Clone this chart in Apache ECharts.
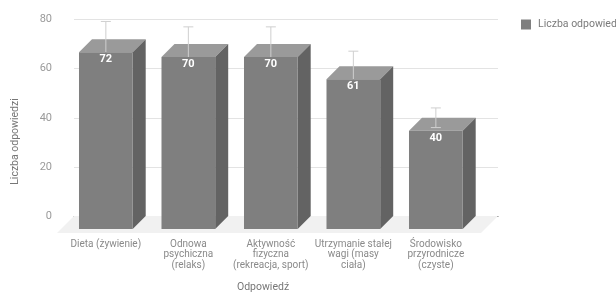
<!DOCTYPE html>
<html>
<head>
<meta charset="utf-8">
<script src="https://cdn.jsdelivr.net/npm/echarts@6/dist/echarts.min.js"></script>
<style>
html,body{margin:0;padding:0;background:#fff;}
#chart{width:616px;height:292px;}
</style>
</head>
<body>
<div id="chart"></div>
<script>
const categories = ['Dieta (żywienie)', 'Odnowa psychiczna (relaks)', 'Aktywność fizyczna (rekreacja, sport)', 'Utrzymanie stałej wagi (masy ciała)', 'Środowisko przyrodnicze (czyste)'];
const tickLabels = ['Dieta (żywienie)', 'Odnowa\npsychiczna\n(relaks)', 'Aktywność\nfizyczna\n(rekreacja, sport)', 'Utrzymanie stałej\nwagi (masy\nciała)', 'Środowisko\nprzyrodnicze\n(czyste)'];
const values = [72, 70, 70, 61, 40];
const errors = [7.2, 7, 7, 6.1, 4];
const seriesName = 'Liczba odpowiedzi';
const xTitle = 'Odpowiedź';
const yTitle = 'Liczba odpowiedzi';

const DEPTH = 13;
const FLOOR = 17;
const FONT = 'Roboto, "Noto Sans", sans-serif';

const chart = echarts.init(document.getElementById('chart'), null, {renderer: 'canvas'});

function renderBar(params, api) {
  const i = api.value(0), v = api.value(1), e = api.value(2);
  const base = api.coord([i, 0]);
  const top = api.coord([i, v]);
  const band = api.size([1, 0])[0];
  const hw = band * 0.651 / 2;
  const x0 = top[0] - hw, x1 = top[0] + hw;
  const yt = top[1], yb = base[1];
  const d = DEPTH;
  const eHi = api.coord([i, v + e])[1] - d;
  const eLo = api.coord([i, v - e])[1] - d;
  const cx = top[0];
  const cap = 5;
  return {
    type: 'group',
    children: [
      {type: 'polygon', shape: {points: [[x0, yt], [x1, yt], [x1 + d, yt - d], [x0 + d, yt - d]]}, style: {fill: '#9a9a9a'}},
      {type: 'polygon', shape: {points: [[x1, yt], [x1 + d, yt - d], [x1 + d, yb - d], [x1, yb]]}, style: {fill: '#636363'}},
      {type: 'line', shape: {x1: cx, y1: eHi, x2: cx, y2: eLo}, style: {stroke: '#cfcfcf', lineWidth: 1}},
      {type: 'line', shape: {x1: cx - cap, y1: eHi, x2: cx + cap, y2: eHi}, style: {stroke: '#cfcfcf', lineWidth: 1}},
      {type: 'line', shape: {x1: cx - cap, y1: eLo, x2: cx + cap, y2: eLo}, style: {stroke: '#cfcfcf', lineWidth: 1}},
      {type: 'rect', shape: {x: x0, y: yt, width: x1 - x0, height: yb - yt}, style: {fill: '#7f7f7f'}},
      {type: 'text', style: {text: String(v), x: cx, y: yt + 7, fill: '#ffffff', font: 'bold 11px ' + FONT, align: 'center', verticalAlign: 'middle', textAlign: 'center', textVerticalAlign: 'middle'}}
    ]
  };
}

function renderFloor(params, api) {
  const cs = params.coordSys;
  const yb = cs.y + cs.height;
  const xl = cs.x, xr = cs.x + cs.width;
  return {
    type: 'polygon',
    shape: {points: [[xl, yb], [xr, yb], [xr - FLOOR, yb + FLOOR], [xl - FLOOR, yb + FLOOR]]},
    style: {fill: '#f1f1f1'}
  };
}

const option = {
  animation: false,
  backgroundColor: '#ffffff',
  textStyle: {fontFamily: FONT},
  grid: [
    {left: 74, top: 19.5, width: 424, height: 196.5},
    {left: 64.6, top: 32.5, width: 412.5, height: 196.5}
  ],
  xAxis: [
    {type: 'category', gridIndex: 0, data: categories,
     axisLine: {show: true, lineStyle: {color: '#666', width: 1}},
     axisTick: {show: false}, axisLabel: {show: false}, splitLine: {show: false}},
    {type: 'category', gridIndex: 1, data: categories,
     axisLine: {show: false}, axisTick: {show: false}, splitLine: {show: false},
     axisLabel: {
       margin: 10, fontSize: 10, lineHeight: 10.5, color: '#8a8a8a', fontFamily: FONT,
       interval: 0, align: 'center',
       formatter: (val, idx) => tickLabels[idx]
     }}
  ],
  yAxis: [
    {type: 'value', gridIndex: 0, min: 0, max: 80, interval: 20,
     axisLine: {show: false}, axisTick: {show: false},
     axisLabel: {margin: 22, fontSize: 11, color: '#9a9a9a', fontFamily: FONT},
     splitLine: {lineStyle: {color: '#e3e3e3', width: 1}}},
    {type: 'value', gridIndex: 1, min: 0, max: 80, interval: 20, show: false,
     splitLine: {show: false}}
  ],
  legend: {
    show: true, left: 516, top: 14, orient: 'vertical',
    itemWidth: 10, itemHeight: 10, itemGap: 6,
    icon: 'rect',
    textStyle: {fontSize: 10.5, color: '#7a7a7a', fontFamily: FONT, padding: [0, 0, 0, 2]},
    data: [seriesName]
  },
  graphic: [
    {type: 'text', left: 'center', x: 0, style: {text: xTitle, x: 263, y: 287, fill: '#777', font: '10.5px ' + FONT, align: 'center', verticalAlign: 'middle', textAlign: 'center', textVerticalAlign: 'middle'}},
  ],
  series: [
    {type: 'custom', name: 'floor', xAxisIndex: 0, yAxisIndex: 0, z: 1, silent: true,
     renderItem: renderFloor, data: [[0, 0]]},
    {type: 'custom', name: seriesName, xAxisIndex: 1, yAxisIndex: 1, z: 3,
     itemStyle: {color: '#7f7f7f'},
     renderItem: renderBar,
     encode: {x: 0, y: 1},
     data: values.map((v, i) => [i, v, errors[i]])}
  ]
};
chart.setOption(option);
chart.setOption({
  graphic: [
    {type: 'text', x: 263, y: 287, style: {text: xTitle, fill: '#777', font: '10.5px ' + FONT, align: 'center', verticalAlign: 'middle', textAlign: 'center', textVerticalAlign: 'middle'}},
    {type: 'text', x: 15, y: 141.5, rotation: Math.PI / 2, style: {text: yTitle, fill: '#777', font: '10.5px ' + FONT, align: 'center', verticalAlign: 'middle', textAlign: 'center', textVerticalAlign: 'middle'}}
  ]
}, {replaceMerge: ['graphic']});
</script>
</body>
</html>
